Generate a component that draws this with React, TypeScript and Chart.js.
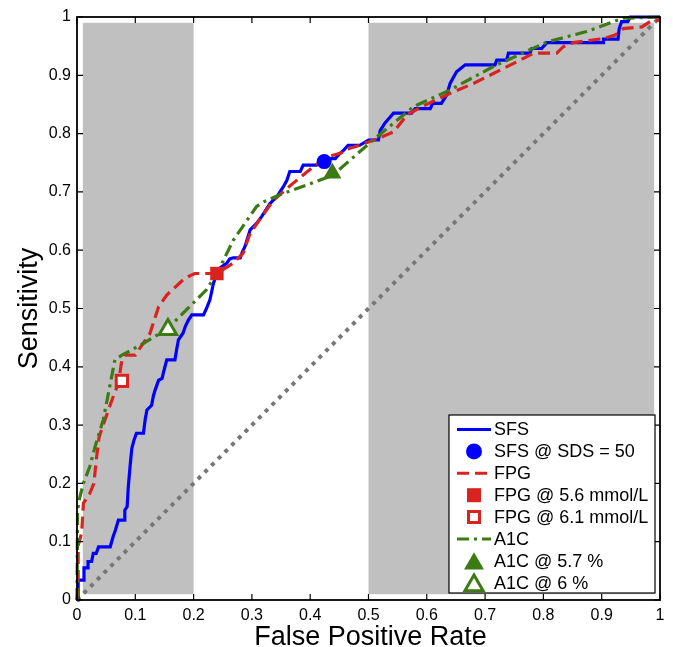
import React, { useEffect, useRef } from "react";
import { Chart, registerables } from "chart.js";
Chart.register(...registerables);

const xTickLabels = ["0", "0.1", "0.2", "0.3", "0.4", "0.5", "0.6", "0.7", "0.8", "0.9", "1"];
const yTickLabels = ["0", "0.1", "0.2", "0.3", "0.4", "0.5", "0.6", "0.7", "0.8", "0.9", "1"];

const shadeFrom = [0.01, 0.5];
const shadeTo = [0.2, 0.99];
const shadeYRange = [0.01, 0.99];

const sfsFpr = [0, 0.002, 0.002, 0.012, 0.012, 0.019, 0.019, 0.025, 0.028, 0.033, 0.037, 0.057, 0.062, 0.066, 0.071, 0.082, 0.082, 0.086, 0.088, 0.091, 0.094, 0.098, 0.102, 0.114, 0.117, 0.12, 0.128, 0.131, 0.134, 0.14, 0.146, 0.148, 0.154, 0.168, 0.171, 0.174, 0.182, 0.186, 0.191, 0.197, 0.217, 0.222, 0.228, 0.234, 0.24, 0.246, 0.257, 0.262, 0.268, 0.28, 0.284, 0.288, 0.297, 0.308, 0.317, 0.331, 0.343, 0.354, 0.36, 0.365, 0.383, 0.388, 0.411, 0.43, 0.443, 0.451, 0.458, 0.465, 0.485, 0.5, 0.517, 0.52, 0.528, 0.543, 0.574, 0.58, 0.606, 0.61, 0.625, 0.634, 0.64, 0.651, 0.666, 0.717, 0.72, 0.737, 0.74, 0.777, 0.78, 0.797, 0.806, 0.903, 0.903, 0.928, 0.93, 0.934, 0.945, 0.949, 1];
const sfsSens = [0, 0, 0.034, 0.034, 0.055, 0.055, 0.066, 0.066, 0.08, 0.08, 0.091, 0.091, 0.109, 0.12, 0.137, 0.137, 0.154, 0.16, 0.194, 0.229, 0.26, 0.275, 0.286, 0.286, 0.31, 0.326, 0.334, 0.35, 0.36, 0.377, 0.38, 0.389, 0.412, 0.412, 0.43, 0.446, 0.458, 0.47, 0.48, 0.489, 0.489, 0.5, 0.515, 0.543, 0.561, 0.57, 0.578, 0.585, 0.587, 0.587, 0.598, 0.606, 0.635, 0.646, 0.658, 0.68, 0.692, 0.709, 0.72, 0.735, 0.735, 0.746, 0.746, 0.757, 0.757, 0.766, 0.772, 0.78, 0.78, 0.789, 0.789, 0.805, 0.818, 0.835, 0.835, 0.843, 0.843, 0.852, 0.852, 0.866, 0.886, 0.906, 0.918, 0.918, 0.926, 0.926, 0.938, 0.938, 0.946, 0.946, 0.956, 0.956, 0.962, 0.962, 0.98, 0.992, 0.992, 1, 1];

const fpgFpr = [0, 0.002, 0.002, 0.008, 0.011, 0.022, 0.029, 0.033, 0.038, 0.048, 0.06, 0.071, 0.077, 0.082, 0.1, 0.108, 0.125, 0.14, 0.154, 0.185, 0.202, 0.24, 0.268, 0.285, 0.297, 0.337, 0.371, 0.405, 0.428, 0.451, 0.468, 0.485, 0.517, 0.543, 0.566, 0.591, 0.64, 0.68, 0.726, 0.76, 0.783, 0.823, 0.834, 0.851, 0.903, 0.923, 0.937, 0.969, 0.983, 1];
const fpgSens = [0, 0.02, 0.094, 0.115, 0.166, 0.183, 0.2, 0.24, 0.28, 0.309, 0.343, 0.372, 0.412, 0.42, 0.42, 0.432, 0.457, 0.503, 0.523, 0.552, 0.56, 0.56, 0.578, 0.595, 0.629, 0.686, 0.715, 0.743, 0.76, 0.766, 0.775, 0.78, 0.792, 0.803, 0.832, 0.846, 0.869, 0.886, 0.909, 0.926, 0.938, 0.938, 0.949, 0.956, 0.963, 0.969, 0.98, 0.983, 0.992, 0.995];

const a1cFpr = [0, 0.001, 0.005, 0.011, 0.022, 0.031, 0.045, 0.065, 0.077, 0.114, 0.156, 0.222, 0.24, 0.268, 0.308, 0.32, 0.348, 0.438, 0.508, 0.577, 0.64, 0.714, 0.806, 0.874, 0.937, 1];
const a1cSens = [0, 0.154, 0.177, 0.2, 0.229, 0.263, 0.309, 0.412, 0.42, 0.44, 0.466, 0.532, 0.56, 0.617, 0.675, 0.683, 0.695, 0.728, 0.789, 0.846, 0.875, 0.915, 0.957, 0.975, 0.998, 1];

const chanceFpr = [0, 1];
const chanceSens = [0, 1];

const sfsPoint = [0.424, 0.752];
const fpg56Point = [0.24, 0.56];
const fpg61Point = [0.077, 0.376];
const a1c57Point = [0.438, 0.732];
const a1c6Point = [0.156, 0.464];

const legendLabels = ["SFS", "SFS @ SDS = 50", "FPG", "FPG @ 5.6 mmol/L", "FPG @ 6.1 mmol/L", "A1C", "A1C @ 5.7 %", "A1C @ 6 %"];

const BLUE = "#0000ff";
const RED = "#d8231f";
const GREEN = "#3c7a14";
const FONT = "'Liberation Sans', Arial, Helvetica, sans-serif";

const zip = (xs: number[], ys: number[]) => xs.map((x, i) => ({ x, y: ys[i] }));

type Entry = { kind: "line" | "marker"; color: string; dash?: number[]; shape?: string; filled?: boolean };
const legendStyles: Entry[] = [
  { kind: "line", color: BLUE, dash: [] },
  { kind: "marker", color: BLUE, shape: "circle", filled: true },
  { kind: "line", color: RED, dash: [12, 6] },
  { kind: "marker", color: RED, shape: "rect", filled: true },
  { kind: "marker", color: RED, shape: "rect", filled: false },
  { kind: "line", color: GREEN, dash: [12, 5, 3, 5] },
  { kind: "marker", color: GREEN, shape: "triangle", filled: true },
  { kind: "marker", color: GREEN, shape: "triangle", filled: false },
];

function drawMarker(ctx: CanvasRenderingContext2D, shape: string, x: number, y: number, color: string, filled: boolean) {
  ctx.save();
  ctx.setLineDash([]);
  ctx.beginPath();
  if (shape === "circle") {
    ctx.arc(x, y, 8, 0, Math.PI * 2);
  } else if (shape === "rect") {
    const s = filled ? 7 : 5.5;
    ctx.rect(x - s, y - s, 2 * s, 2 * s);
  } else {
    const r = filled ? 11.5 : 10.5;
    ctx.moveTo(x, y - r * 0.75);
    ctx.lineTo(x + r * 0.866, y + r * 0.75);
    ctx.lineTo(x - r * 0.866, y + r * 0.75);
    ctx.closePath();
  }
  if (filled) {
    ctx.fillStyle = color;
    ctx.fill();
  } else {
    ctx.fillStyle = "#fff";
    ctx.fill();
    ctx.lineWidth = 3;
    ctx.strokeStyle = color;
    ctx.stroke();
  }
  ctx.restore();
}

const decorPlugin = {
  id: "decor",
  beforeDatasetsDraw(chart: any) {
    const { ctx, scales } = chart;
    const xs = scales.x, ys = scales.y;
    ctx.save();
    ctx.fillStyle = "#c0c0c0";
    for (let i = 0; i < shadeFrom.length; i++) {
      const x0 = xs.getPixelForValue(shadeFrom[i]);
      const x1 = xs.getPixelForValue(shadeTo[i]);
      const y0 = ys.getPixelForValue(shadeYRange[1]);
      const y1 = ys.getPixelForValue(shadeYRange[0]);
      ctx.fillRect(x0, y0, x1 - x0, y1 - y0);
    }
    ctx.restore();
  },
  afterDatasetsDraw(chart: any) {
    const { ctx, chartArea: a, scales } = chart;
    ctx.save();
    ctx.strokeStyle = "#000";
    ctx.lineWidth = 1.8;
    ctx.setLineDash([]);
    ctx.strokeRect(a.left, a.top, a.right - a.left, a.bottom - a.top);
    ctx.lineWidth = 1.2;
    ctx.beginPath();
    const tl = 6;
    scales.x.ticks.forEach((t: any) => {
      const px = scales.x.getPixelForValue(t.value);
      ctx.moveTo(px, a.bottom); ctx.lineTo(px, a.bottom - tl);
      ctx.moveTo(px, a.top); ctx.lineTo(px, a.top + tl);
    });
    scales.y.ticks.forEach((t: any) => {
      const py = scales.y.getPixelForValue(t.value);
      ctx.moveTo(a.left, py); ctx.lineTo(a.left + tl, py);
      ctx.moveTo(a.right, py); ctx.lineTo(a.right - tl, py);
    });
    ctx.stroke();
    ctx.restore();
  },
  afterDraw(chart: any) {
    const { ctx, chartArea: a } = chart;
    ctx.save();
    ctx.fillStyle = "#000";
    ctx.font = `27px ${FONT}`;
    ctx.textAlign = "center";
    ctx.textBaseline = "alphabetic";
    ctx.fillText("False Positive Rate", (a.left + a.right) / 2 + 2, 645);
    ctx.save();
    ctx.translate(37, (a.top + a.bottom) / 2);
    ctx.rotate(-Math.PI / 2);
    ctx.fillText("Sensitivity", 0, 0);
    ctx.restore();

    const bx = 449, by = 415, bw = 206, bh = 178;
    ctx.fillStyle = "#fff";
    ctx.fillRect(bx, by, bw, bh);
    ctx.strokeStyle = "#000";
    ctx.lineWidth = 1.2;
    ctx.strokeRect(bx, by, bw, bh);
    ctx.font = `18px ${FONT}`;
    ctx.textAlign = "left";
    ctx.textBaseline = "middle";
    legendLabels.forEach((label, i) => {
      const st = legendStyles[i];
      const cy = by + 14.5 + i * 21.9;
      if (st.kind === "line") {
        ctx.save();
        ctx.strokeStyle = st.color;
        ctx.lineWidth = 3;
        ctx.setLineDash(st.dash || []);
        ctx.beginPath();
        ctx.moveTo(457, cy);
        ctx.lineTo(491, cy);
        ctx.stroke();
        ctx.restore();
      } else {
        drawMarker(ctx, st.shape as string, 474, cy, st.color, !!st.filled);
      }
      ctx.fillStyle = "#000";
      ctx.fillText(label, 494, cy + 1);
    });
    ctx.restore();
  },
};

export default function App() {
  const ref = useRef<HTMLCanvasElement>(null);
  useEffect(() => {
    if (!ref.current) return;
    const lineDs = (label: string, xs: number[], ys: number[], color: string, dash: number[], order: number, width = 3) => ({
      label,
      data: zip(xs, ys),
      borderColor: color,
      backgroundColor: color,
      borderWidth: width,
      borderDash: dash,
      borderCapStyle: "butt",
      pointRadius: 0,
      tension: 0,
      fill: false,
      order,
      clip: 2,
    });
    const markerDs = (label: string, p: number[], color: string, style: string, radius: number, filled: boolean) => ({
      label,
      data: [{ x: p[0], y: p[1] }],
      showLine: false,
      pointStyle: style,
      pointRadius: radius,
      pointBorderWidth: filled ? 0 : 3,
      pointBackgroundColor: filled ? color : "#ffffff",
      pointBorderColor: color,
      borderColor: color,
      backgroundColor: color,
      order: 1,
      clip: false as any,
    });
    const chart = new Chart(ref.current, {
      type: "line",
      data: {
        datasets: [
          lineDs("chance", chanceFpr, chanceSens, "#777777", [4, 5.5], 10, 4) as any,
          lineDs(legendLabels[0], sfsFpr, sfsSens, BLUE, [], 7, 3.2),
          markerDs(legendLabels[1], sfsPoint, BLUE, "circle", 7.5, true),
          lineDs(legendLabels[2], fpgFpr, fpgSens, RED, [12, 6], 6, 3.2),
          markerDs(legendLabels[3], fpg56Point, RED, "rect", 9.5, true),
          markerDs(legendLabels[4], fpg61Point, RED, "rect", 8, false),
          lineDs(legendLabels[5], a1cFpr, a1cSens, GREEN, [12, 5, 3, 5], 5, 3.2),
          markerDs(legendLabels[6], a1c57Point, GREEN, "triangle", 10.5, true),
          markerDs(legendLabels[7], a1c6Point, GREEN, "triangle", 10, false),
        ],
      },
      options: {
        animation: false,
        responsive: false,
        maintainAspectRatio: false,
        devicePixelRatio: 1,
        layout: { padding: { left: 0, right: 13, top: 17, bottom: 0 } },
        plugins: { legend: { display: false }, tooltip: { enabled: false }, title: { display: false } },
        scales: {
          x: {
            type: "linear",
            min: 0,
            max: 1,
            afterFit: (s: any) => { s.height = 47; },
            grid: { display: false, drawTicks: false },
            border: { display: false },
            ticks: {
              stepSize: 0.1,
              autoSkip: false,
              maxRotation: 0,
              padding: 6,
              color: "#000",
              font: { family: FONT, size: 16 },
              callback: (_v: any, i: number) => xTickLabels[i],
            },
          },
          y: {
            type: "linear",
            min: 0,
            max: 1,
            afterFit: (s: any) => { s.width = 77; },
            grid: { display: false, drawTicks: false },
            border: { display: false },
            ticks: {
              stepSize: 0.1,
              autoSkip: false,
              padding: 6,
              color: "#000",
              font: { family: FONT, size: 16 },
              callback: (_v: any, i: number) => yTickLabels[i],
            },
          },
        },
      },
      plugins: [decorPlugin],
    });
    return () => chart.destroy();
  }, []);
  return (
    <div style={{ position: "absolute", left: 0, top: 0, width: 673, height: 647, background: "#fff" }}>
      <canvas ref={ref} width={673} height={647} style={{ width: 673, height: 647, display: "block" }} />
    </div>
  );
}
